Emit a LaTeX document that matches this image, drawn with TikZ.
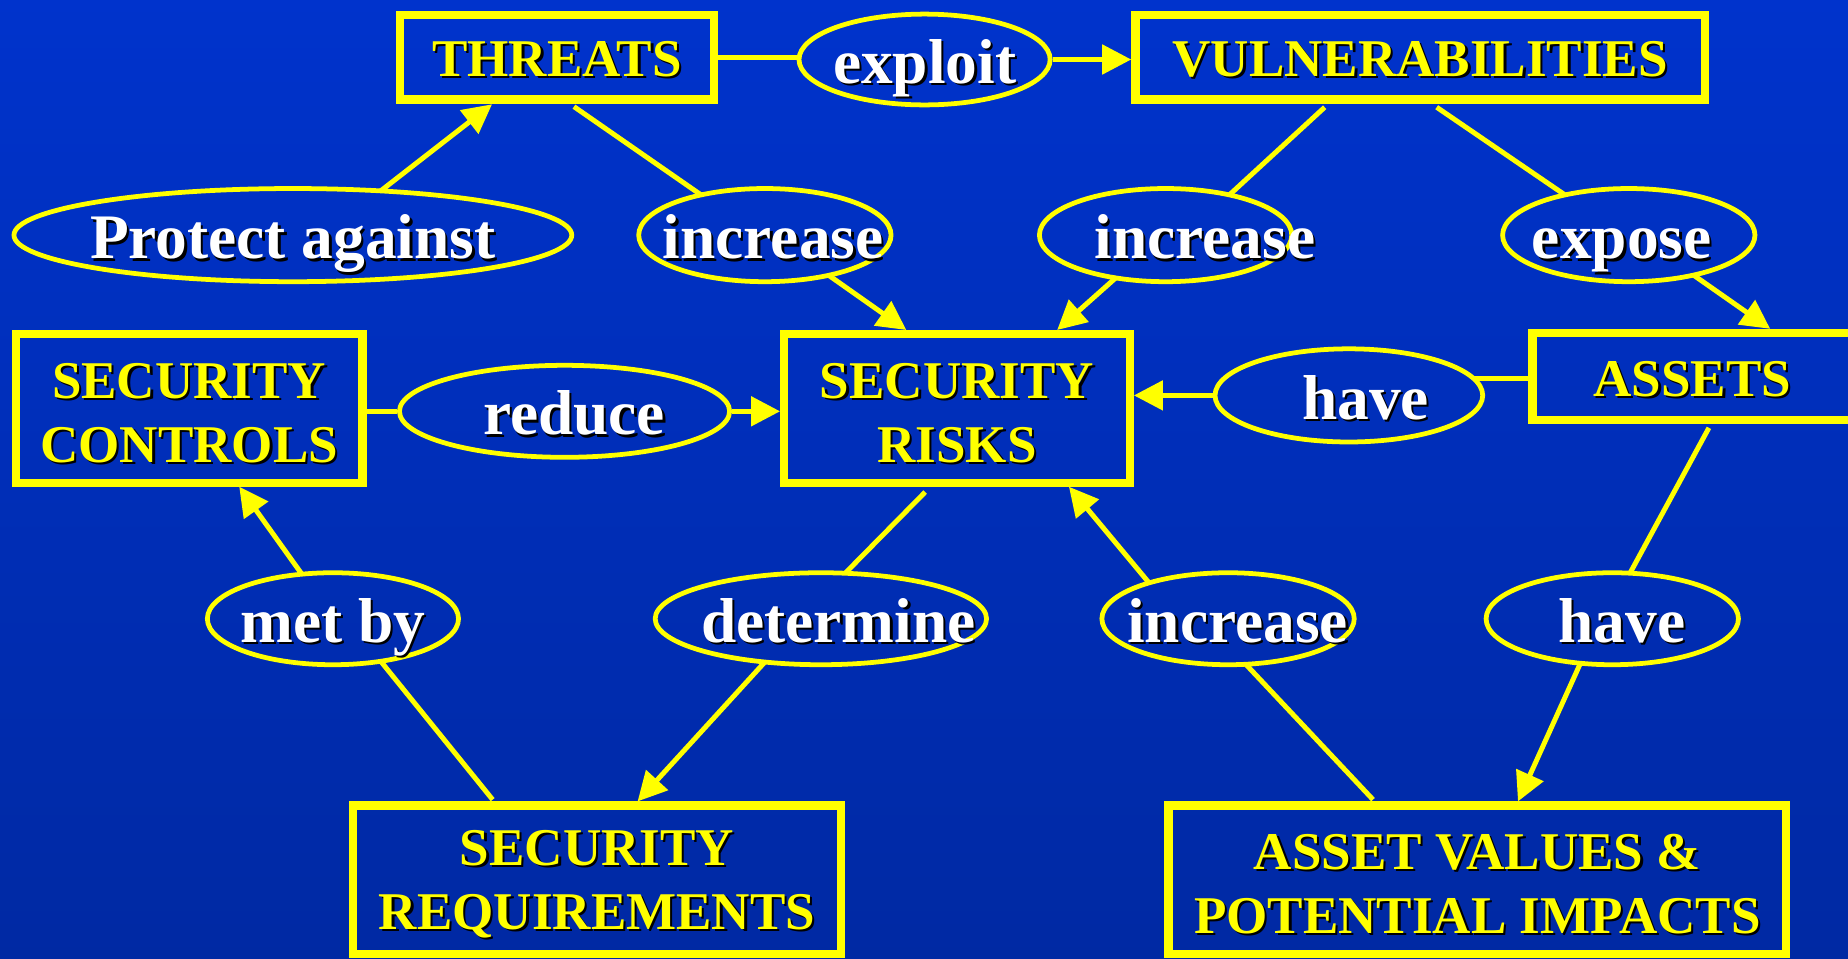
\documentclass[tikz,border=0pt]{standalone}
\usepackage{fontspec}
\setmainfont{Liberation Serif}
\usetikzlibrary{shapes.geometric,arrows.meta,calc}
\definecolor{bgtop}{RGB}{0,51,204}
\definecolor{bgbot}{RGB}{0,41,163}
\definecolor{ylw}{RGB}{255,255,0}
\newcommand\shd[1]{\leavevmode\rlap{\kern0.55pt\raisebox{-0.55pt}{\color{black}#1}}#1}
\newcommand\lift[1]{\rule{0pt}{#1}}
\begin{document}
\begin{tikzpicture}[x=0.01cm,y=-0.01cm,
  cbox/.style={draw=ylw, line width=2pt, rectangle, inner sep=0pt, text=ylw,
    font=\bfseries\fontsize{12.8}{15.4}\selectfont, align=center},
  cell/.style={draw=ylw, line width=1.15pt, ellipse, inner xsep=-20pt, inner ysep=0pt,
    text=white, font=\bfseries\fontsize{15.3}{18}\selectfont,
    text height=11.4pt, text depth=0pt},
  cline/.style={draw=ylw, line width=1.2pt},
  carrow/.style={cline, -{Triangle[length=7pt,width=7pt]}}]
\useasboundingbox (0,0) rectangle (1568,813);
\shade[top color=bgtop, bottom color=bgbot] (0,0) rectangle (1568,813);

% nodes
\node[cbox, minimum width=2.66cm, minimum height=0.72cm] (threats) at (472.5,48.5) {\lift{10pt}\shd{THREATS}};
\node[cell, minimum width=2.13cm, minimum height=0.77cm] (exploit) at (784.5,50.5) {\shd{exploit}};
\node[cbox, minimum width=4.83cm, minimum height=0.72cm] (vuln) at (1205,48.5) {\lift{10pt}\shd{VULNERABILITIES}};
\node[cell, minimum width=4.73cm, minimum height=0.79cm] (protect) at (248.5,199.5) {\shd{Protect against}};
\node[cell, minimum width=2.14cm, minimum height=0.79cm] (inca) at (649,199.5) {\hspace*{4pt}\shd{increase}};
\node[cell, minimum width=2.14cm, minimum height=0.79cm] (incb) at (989,199.5) {\hspace*{19pt}\shd{increase}};
\node[cell, minimum width=2.14cm, minimum height=0.79cm] (expose) at (1382,199.5) {\shd{expose}\hspace*{3.4pt}};
\node[cbox, minimum width=2.94cm, minimum height=1.26cm] (ctrl) at (160.5,346.5) {\lift{11.2pt}\shd{SECURITY}\\\shd{CONTROLS}};
\node[cell, minimum width=2.80cm, minimum height=0.78cm] (reduce) at (479,349) {\hspace*{4.6pt}\shd{reduce}};
\node[cbox, minimum width=2.93cm, minimum height=1.26cm] (risks) at (812,346.5) {\lift{11.2pt}\shd{SECURITY}\\\shd{RISKS}};
\node[cell, minimum width=2.27cm, minimum height=0.79cm] (havea) at (1144.5,335.5) {\hspace*{8pt}\shd{have}};
\node[cbox, minimum width=2.71cm, minimum height=0.74cm] (assets) at (1436,319.5) {\lift{10.4pt}\shd{ASSETS}};
\node[cell, minimum width=2.13cm, minimum height=0.78cm] (metby) at (282.5,525) {\shd{met by}};
\node[cell, minimum width=2.81cm, minimum height=0.78cm] (determine) at (696.5,525) {\hspace*{8.5pt}\shd{determine}};
\node[cell, minimum width=2.14cm, minimum height=0.78cm] (incc) at (1042,525) {\hspace*{4.6pt}\shd{increase}};
\node[cell, minimum width=2.14cm, minimum height=0.78cm] (haveb) at (1368,525) {\hspace*{4.6pt}\shd{have}};
\node[cbox, minimum width=4.14cm, minimum height=1.26cm] (req) at (506.5,746.5) {\lift{11.2pt}\shd{SECURITY}\\\shd{REQUIREMENTS}};
\node[cbox, minimum width=5.24cm, minimum height=1.26cm] (values) at (1253.5,746.5) {\lift{11.2pt}\shd{ASSET VALUES \&}\\\shd{POTENTIAL IMPACTS}};

% connectors
\draw[cline] (threats.east) -- (threats.east -| exploit.west);
\draw[carrow] (exploit.east) -- (exploit.east -| vuln.west);
\draw[carrow] ($(protect.center)+(74.5,-37.5)$) -- ($(threats.center)+(-55,40)$);
\draw[cline] ($(threats.center)+(14.5,42)$) -- ($(inca.center)+(-54,-34)$);
\draw[carrow] ($(inca.center)+(54,34)$) -- ($(risks.center)+(-43,-66.5)$);
\draw[cline] ($(vuln.center)+(-81,42.5)$) -- ($(incb.center)+(54,-34)$);
\draw[carrow] ($(incb.center)+(-42,36)$) -- ($(risks.center)+(85,-66.5)$);
\draw[cline] ($(vuln.center)+(14,42.5)$) -- ($(expose.center)+(-54,-34)$);
\draw[carrow] ($(expose.center)+(55,34)$) -- ($(assets.center)+(66,-40.5)$);
\draw[cline] (ctrl.east |- reduce.west) -- (reduce.west);
\draw[carrow] (reduce.east) -- (risks.west |- reduce.east);
\coordinate (hv) at ($(havea.center)+(106,-14)$);
\draw[cline] (hv) -- (hv -| assets.west);
\draw[carrow] (havea.west) -- (havea.west -| risks.east);
\draw[carrow] ($(metby.center)+(-26.5,-38)$) -- ($(ctrl.center)+(42.5,66.5)$);
\draw[cline] ($(metby.center)+(40.5,36)$) -- ($(req.center)+(-88.5,-68)$);
\draw[cline] ($(risks.center)+(-27,71)$) -- ($(determine.center)+(20.5,-38.5)$);
\draw[carrow] ($(determine.center)+(-47.5,36.7)$) -- ($(req.center)+(34.5,-66.5)$);
\draw[carrow] ($(incc.center)+(-67,-30.4)$) -- ($(risks.center)+(95,66.5)$);
\draw[cline] ($(incc.center)+(15,38.6)$) -- ($(values.center)+(-88.5,-68)$);
\draw[cline] ($(assets.center)+(14,43.5)$) -- ($(haveb.center)+(15,-38.6)$);
\draw[carrow] ($(haveb.center)+(-27,37.7)$) -- ($(values.center)+(34.5,-66.5)$);
\end{tikzpicture}
\end{document}
